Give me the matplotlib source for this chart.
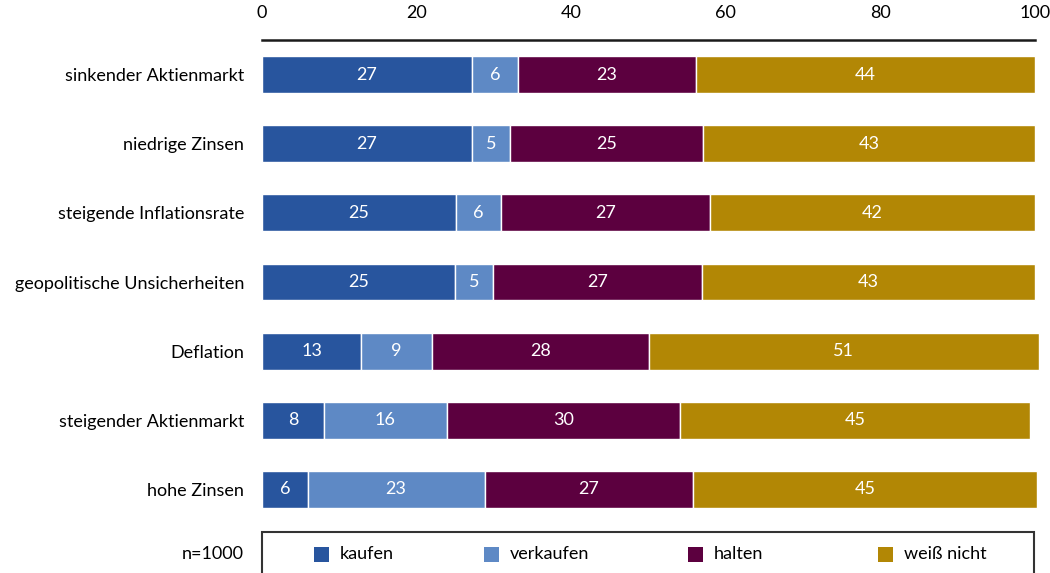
import matplotlib
matplotlib.use("Agg")
import matplotlib.pyplot as plt
from matplotlib.patches import Rectangle

plt.rcParams['font.family'] = ['Lato', 'DejaVu Sans']

categories = ["sinkender Aktienmarkt", "niedrige Zinsen", "steigende Inflationsrate",
              "geopolitische Unsicherheiten", "Deflation", "steigender Aktienmarkt", "hohe Zinsen"]
series_names = ["kaufen", "verkaufen", "halten", "weiß nicht"]
kaufen = [27.2, 27.2, 25.1, 25.0, 12.8, 8.0, 5.9]
verkaufen = [5.9, 4.9, 5.8, 4.9, 9.2, 15.9, 22.9]
halten = [23.0, 25.0, 27.1, 27.0, 28.0, 30.2, 27.0]
weiss_nicht = [43.9, 42.9, 42.0, 43.1, 50.5, 45.2, 44.5]
colors = ["#28559E", "#5E89C5", "#5C003F", "#B28705"]
x_ticks = [0, 20, 40, 60, 80, 100]
sample_note = "n=1000"

W, H = 1050, 573
fig = plt.figure(figsize=(W / 100, H / 100), dpi=100)
ax = fig.add_axes([262 / W, 1 - 524 / H, (1035 - 262) / W, (524 - 40) / H])

series = [kaufen, verkaufen, halten, weiss_nicht]
ypos = list(range(len(categories)))
left = [0.0] * len(categories)
for vals, col, name in zip(series, colors, series_names):
    bars = ax.barh(ypos, vals, left=left, height=0.535, color=col,
                   edgecolor="white", linewidth=1.0, label=name)
    for b in bars:
        b.set_clip_on(False)
    for y, v, l in zip(ypos, vals, left):
        ax.text(l + v / 2, y, f"{int(v + 0.5)}", ha="center", va="center",
                color="white", fontsize=13)
    left = [a + b for a, b in zip(left, vals)]

ax.set_xlim(0, 100)
ax.set_ylim(6.5, -0.5)
ax.set_yticks(ypos)
ax.set_yticklabels(categories, fontsize=13)
ax.set_xticks(x_ticks)
ax.set_xticklabels([str(t) for t in x_ticks], fontsize=13)
ax.xaxis.tick_top()
ax.tick_params(axis="both", length=0)
ax.tick_params(axis="x", pad=14)
ax.tick_params(axis="y", pad=13)
for s in ["left", "right", "bottom"]:
    ax.spines[s].set_visible(False)
ax.spines["top"].set_linewidth(1.8)
ax.spines["top"].set_color("#1a1a1a")

# legend box
def fx(px):
    return px / W

def fy(py):
    return 1 - py / H

fig.add_artist(Rectangle((fx(262), fy(600)), fx(1034) - fx(262), fy(532) - fy(600),
                         transform=fig.transFigure, fill=False, edgecolor="#333333",
                         linewidth=1.5, clip_on=False))
fig.text(fx(244), fy(554), sample_note, ha="right", va="center", fontsize=13)
legend_x = [314, 484, 688, 878]
for lx, col, name in zip(legend_x, colors, series_names):
    fig.add_artist(Rectangle((fx(lx), fy(562)), 15 / W, 15 / H, transform=fig.transFigure,
                             facecolor=col, edgecolor="none"))
    fig.text(fx(lx + 26), fy(554), name, ha="left", va="center", fontsize=13)

fig.savefig("out.png", dpi=100)
